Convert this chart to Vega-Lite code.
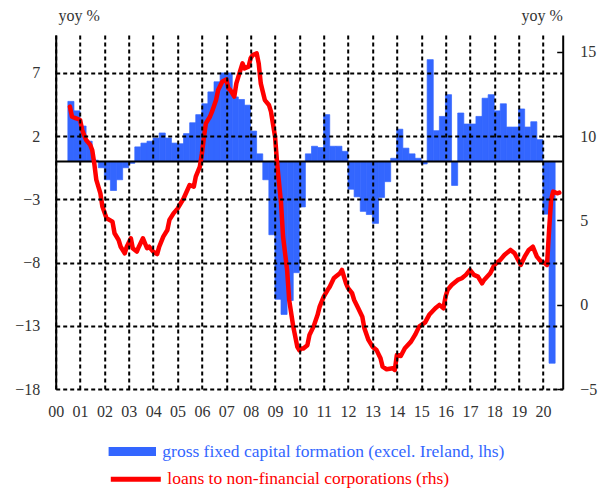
{
  "$schema": "https://vega.github.io/schema/vega-lite/v6.json",
  "autosize": {"type": "none"},
  "padding": {"left": 55.7, "top": 35, "right": 48.3, "bottom": 102},
  "width": 507,
  "height": 354,
  "config": {
    "font": "Liberation Serif",
    "view": {"stroke": null},
    "legend": {"padding": 0}
  },
  "datasets": {
    "gfcf": [
      {"q":"2000-08-16","v":4.75},{"q":"2000-11-15","v":4.0},{"q":"2001-02-14","v":2.8},{"q":"2001-05-16","v":1.6},
      {"q":"2001-08-16","v":0.1},{"q":"2001-11-15","v":-0.5},{"q":"2002-02-14","v":-1.45},{"q":"2002-05-16","v":-2.3},
      {"q":"2002-08-16","v":-1.45},{"q":"2002-11-15","v":-0.5},{"q":"2003-02-14","v":-0.15},{"q":"2003-05-16","v":1.15},
      {"q":"2003-08-16","v":1.45},{"q":"2003-11-15","v":1.6},{"q":"2004-02-14","v":1.85},{"q":"2004-05-16","v":2.25},
      {"q":"2004-08-16","v":1.85},{"q":"2004-11-15","v":1.45},{"q":"2005-02-14","v":1.4},{"q":"2005-05-16","v":2.2},
      {"q":"2005-08-16","v":3.06},{"q":"2005-11-15","v":3.7},{"q":"2006-02-14","v":4.56},{"q":"2006-05-16","v":5.5},
      {"q":"2006-08-16","v":6.3},{"q":"2006-11-15","v":7.0},{"q":"2007-02-14","v":7.0},{"q":"2007-05-16","v":5.1},
      {"q":"2007-08-16","v":4.9},{"q":"2007-11-15","v":4.45},{"q":"2008-02-14","v":2.4},{"q":"2008-05-16","v":0.6},
      {"q":"2008-08-16","v":-1.45},{"q":"2008-11-15","v":-5.8},{"q":"2009-02-14","v":-10.9},{"q":"2009-05-16","v":-12.1},
      {"q":"2009-08-16","v":-11.0},{"q":"2009-11-15","v":-8.8},{"q":"2010-02-14","v":-3.6},{"q":"2010-05-16","v":0.6},
      {"q":"2010-08-16","v":1.2},{"q":"2010-11-15","v":1.1},{"q":"2011-02-14","v":3.7},{"q":"2011-05-16","v":1.2},
      {"q":"2011-08-16","v":1.2},{"q":"2011-11-15","v":0.8},{"q":"2012-02-14","v":-2.2},{"q":"2012-05-16","v":-2.8},
      {"q":"2012-08-16","v":-3.95},{"q":"2012-11-15","v":-4.2},{"q":"2013-02-14","v":-4.9},{"q":"2013-05-16","v":-2.85},
      {"q":"2013-08-16","v":-1.6},{"q":"2013-11-15","v":0.25},{"q":"2014-02-14","v":2.55},{"q":"2014-05-16","v":1.05},
      {"q":"2014-08-16","v":0.6},{"q":"2014-11-15","v":0.25},{"q":"2015-02-14","v":-0.2},{"q":"2015-05-16","v":8.05},
      {"q":"2015-08-16","v":2.43},{"q":"2015-11-15","v":3.56},{"q":"2016-02-14","v":5.28},{"q":"2016-05-16","v":-1.9},
      {"q":"2016-08-16","v":3.83},{"q":"2016-11-15","v":2.96},{"q":"2017-02-14","v":2.96},{"q":"2017-05-16","v":3.56},
      {"q":"2017-08-16","v":5.0},{"q":"2017-11-15","v":5.28},{"q":"2018-02-14","v":4.0},{"q":"2018-05-16","v":4.56},
      {"q":"2018-08-16","v":2.72},{"q":"2018-11-15","v":2.72},{"q":"2019-02-14","v":4.15},{"q":"2019-05-16","v":2.72},
      {"q":"2019-08-16","v":3.14},{"q":"2019-11-15","v":1.72},{"q":"2020-02-14","v":-4.17},{"q":"2020-05-16","v":-15.96}
    ],
    "loans": [
      {"d":"2000-08-01","v":11.75},{"d":"2000-09-01","v":11.15},{"d":"2000-11-01","v":11.06},{"d":"2001-01-01","v":10.96},
      {"d":"2001-02-01","v":10.37},{"d":"2001-03-01","v":10.07},{"d":"2001-04-01","v":9.77},{"d":"2001-06-01","v":9.48},
      {"d":"2001-07-01","v":9.18},{"d":"2001-08-01","v":8.39},{"d":"2001-09-01","v":7.4},{"d":"2001-11-01","v":6.6},
      {"d":"2001-12-01","v":5.82},{"d":"2002-02-01","v":5.13},{"d":"2002-05-01","v":4.93},{"d":"2002-06-01","v":4.24},
      {"d":"2002-08-01","v":3.84},{"d":"2002-09-01","v":3.44},{"d":"2002-11-01","v":3.05},{"d":"2002-12-01","v":3.44},
      {"d":"2003-02-01","v":3.94},{"d":"2003-03-01","v":3.35},{"d":"2003-05-01","v":3.15},{"d":"2003-06-01","v":3.44},
      {"d":"2003-08-01","v":3.94},{"d":"2003-10-01","v":3.35},{"d":"2003-11-01","v":3.44},{"d":"2004-01-01","v":3.15},
      {"d":"2004-03-01","v":3.0},{"d":"2004-04-01","v":3.44},{"d":"2004-06-01","v":4.04},{"d":"2004-08-01","v":4.43},
      {"d":"2004-09-01","v":5.03},{"d":"2004-11-01","v":5.42},{"d":"2005-01-01","v":5.7},{"d":"2005-04-01","v":6.3},
      {"d":"2005-07-01","v":7.1},{"d":"2005-09-01","v":7.0},{"d":"2005-10-01","v":7.6},{"d":"2005-12-01","v":8.19},
      {"d":"2006-01-01","v":8.98},{"d":"2006-02-01","v":9.97},{"d":"2006-03-01","v":10.76},{"d":"2006-05-01","v":11.15},
      {"d":"2006-06-01","v":11.45},{"d":"2006-08-01","v":12.14},{"d":"2006-09-01","v":12.74},{"d":"2006-11-01","v":13.23},
      {"d":"2007-01-01","v":13.37},{"d":"2007-02-01","v":12.84},{"d":"2007-03-01","v":12.74},{"d":"2007-05-01","v":12.34},
      {"d":"2007-06-01","v":13.13},{"d":"2007-08-01","v":13.92},{"d":"2007-09-01","v":14.32},{"d":"2007-10-01","v":14.02},
      {"d":"2007-12-01","v":14.12},{"d":"2008-01-01","v":14.62},{"d":"2008-02-01","v":14.81},{"d":"2008-04-01","v":14.91},
      {"d":"2008-05-01","v":14.32},{"d":"2008-06-01","v":13.13},{"d":"2008-07-01","v":12.64},{"d":"2008-08-01","v":12.14},
      {"d":"2008-10-01","v":11.85},{"d":"2008-11-01","v":11.45},{"d":"2009-01-01","v":9.97},{"d":"2009-02-01","v":8.39},
      {"d":"2009-04-01","v":6.02},{"d":"2009-05-01","v":4.04},{"d":"2009-07-01","v":2.06},{"d":"2009-08-01","v":0.28},
      {"d":"2009-10-01","v":-1.3},{"d":"2009-12-01","v":-2.5},{"d":"2010-01-01","v":-2.7},{"d":"2010-02-01","v":-2.6},
      {"d":"2010-03-01","v":-2.6},{"d":"2010-05-01","v":-2.4},{"d":"2010-06-01","v":-1.8},{"d":"2010-08-01","v":-1.3},
      {"d":"2010-10-01","v":-0.6},{"d":"2010-11-01","v":-0.11},{"d":"2011-01-01","v":0.48},{"d":"2011-03-01","v":0.88},
      {"d":"2011-04-01","v":1.07},{"d":"2011-06-01","v":1.57},{"d":"2011-07-01","v":1.67},{"d":"2011-09-01","v":1.87},
      {"d":"2011-10-01","v":2.06},{"d":"2011-12-01","v":1.27},{"d":"2012-01-01","v":0.98},{"d":"2012-03-01","v":0.68},
      {"d":"2012-04-01","v":0.28},{"d":"2012-06-01","v":-0.21},{"d":"2012-08-01","v":-0.71},{"d":"2012-09-01","v":-1.4},
      {"d":"2012-11-01","v":-2.09},{"d":"2013-01-01","v":-2.49},{"d":"2013-03-01","v":-2.68},{"d":"2013-05-01","v":-3.18},
      {"d":"2013-06-01","v":-3.67},{"d":"2013-08-01","v":-3.83},{"d":"2013-11-01","v":-3.77},{"d":"2013-12-01","v":-3.87},
      {"d":"2014-01-01","v":-2.98},{"d":"2014-03-01","v":-3.04},{"d":"2014-05-01","v":-2.58},{"d":"2014-08-01","v":-2.19},
      {"d":"2014-10-01","v":-1.79},{"d":"2014-12-01","v":-1.3},{"d":"2015-03-01","v":-1.05},{"d":"2015-05-01","v":-0.6},
      {"d":"2015-08-01","v":-0.21},{"d":"2015-10-01","v":-0.01},{"d":"2015-12-01","v":-0.21},{"d":"2016-01-01","v":0.48},
      {"d":"2016-02-01","v":0.88},{"d":"2016-04-01","v":1.17},{"d":"2016-07-01","v":1.47},{"d":"2016-09-01","v":1.57},
      {"d":"2016-11-01","v":1.77},{"d":"2017-01-01","v":2.06},{"d":"2017-03-01","v":1.77},{"d":"2017-05-01","v":1.67},
      {"d":"2017-07-01","v":1.27},{"d":"2017-08-01","v":1.47},{"d":"2017-11-01","v":1.87},{"d":"2018-01-01","v":2.36},
      {"d":"2018-04-01","v":2.66},{"d":"2018-06-01","v":2.95},{"d":"2018-09-01","v":3.25},{"d":"2018-11-01","v":3.05},
      {"d":"2019-02-01","v":2.36},{"d":"2019-04-01","v":2.85},{"d":"2019-06-01","v":3.25},{"d":"2019-08-01","v":3.44},
      {"d":"2019-10-01","v":2.85},{"d":"2019-12-01","v":2.56},{"d":"2020-02-01","v":2.46},{"d":"2020-03-01","v":2.36},
      {"d":"2020-04-01","v":4.43},{"d":"2020-05-01","v":6.21},{"d":"2020-06-01","v":6.71},{"d":"2020-08-01","v":6.61},
      {"d":"2020-09-01","v":6.65}
    ]
  },
  "layer": [
    {
      "layer": [
        {
          "data": {"name": "gfcf"},
          "mark": {"type": "bar", "width": 6.1, "stroke": "#3366ff", "strokeWidth": 0.7},
          "encoding": {
            "x": {
              "field": "q", "type": "temporal",
              "scale": {"type": "utc", "padding": 0, "domain": [{"year": 2000, "month": 1, "date": 1, "utc": true}, {"year": 2020, "month": 10, "date": 22, "utc": true}]},
              "axis": {
                "orient": "bottom", "title": null,
                "labelExpr": "utcFormat(datum.value, '%y')",
                "values": [
                  946684800000, 978307200000, 1009843200000, 1041379200000, 1072915200000,
                  1104537600000, 1136073600000, 1167609600000, 1199145600000, 1230768000000,
                  1262304000000, 1293840000000, 1325376000000, 1356998400000, 1388534400000,
                  1420070400000, 1451606400000, 1483228800000, 1514764800000, 1546300800000,
                  1577836800000
                ],
                "tickCount": {"interval": "year", "step": 1},
                "domain": false, "ticks": false, "tickSize": 0,
                "grid": true, "gridColor": "#000000", "gridDash": [4, 3], "gridWidth": 2, "gridOpacity": 1,
                "labelFont": "Liberation Serif", "labelFontSize": 16, "labelColor": "#333333",
                "labelPadding": 14, "labelFlush": false, "labelOverlap": false, "labelAngle": 0,
                "zindex": 1
              }
            },
            "y": {
              "field": "v", "type": "quantitative",
              "scale": {"domain": [-18, 10], "nice": false, "zero": false},
              "axis": {
                "orient": "left", "values": [-18, -13, -8, -3, 2, 7],
                "grid": true, "gridColor": "#000000", "gridDash": [4, 3], "gridWidth": 2, "gridOpacity": 1,
                "domain": true, "domainColor": "#000000", "domainWidth": 2,
                "ticks": false, "tickSize": 0, "labelPadding": 16,
                "labelFont": "Liberation Serif", "labelFontSize": 16, "labelColor": "#333333",
                "title": "yoy %", "titleAngle": 0, "titleX": 23, "titleY": -15, "titleAlign": "center",
                "titleBaseline": "alphabetic", "titleFont": "Liberation Serif", "titleFontSize": 16,
                "titleFontWeight": "normal", "titleColor": "#333333",
                "zindex": 1
              }
            },
            "fill": {
              "datum": "gross fixed capital formation (excel. Ireland, lhs)", "type": "nominal",
              "scale": {"range": ["#3366ff"]},
              "legend": {
                "orient": "none", "legendX": 52.6, "legendY": 392.5, "title": null,
                "symbolType": "M-1,-0.19H1V0.19H-1Z", "symbolSize": 2247, "symbolStrokeWidth": 0,
                "labelColor": "#3366ff", "labelFont": "Liberation Serif", "labelFontSize": 17.5,
                "labelOffset": 6, "labelLimit": 0
              }
            }
          }
        },
        {
          "data": {"values": [{"z": 0}]},
          "mark": {"type": "rule", "color": "#000000", "strokeWidth": 2},
          "encoding": {
            "y": {"field": "z", "type": "quantitative"}
          }
        }
      ]
    },
    {
      "data": {"name": "loans"},
      "mark": {"type": "line", "strokeWidth": 4.5, "strokeJoin": "round", "strokeCap": "round"},
      "encoding": {
        "x": {
          "field": "d", "type": "temporal",
          "scale": {"type": "utc", "padding": 0, "domain": [{"year": 2000, "month": 1, "date": 1, "utc": true}, {"year": 2020, "month": 10, "date": 22, "utc": true}]}
        },
        "y": {
          "field": "v", "type": "quantitative",
          "scale": {"domain": [-5, 16], "nice": false, "zero": false},
          "axis": {
            "orient": "right", "values": [-5, 0, 5, 10, 15], "grid": false,
            "domain": true, "domainColor": "#000000", "domainWidth": 2,
            "ticks": true, "tickSize": -6, "tickColor": "#000000", "tickWidth": 1.5,
            "labelPadding": 23,
            "labelFont": "Liberation Serif", "labelFontSize": 16, "labelColor": "#333333",
            "title": "yoy %", "titleAngle": 0, "titleX": -21, "titleY": -15, "titleAlign": "center",
            "titleBaseline": "alphabetic", "titleFont": "Liberation Serif", "titleFontSize": 16,
            "titleFontWeight": "normal", "titleColor": "#333333",
            "zindex": 1
          }
        },
        "stroke": {
          "datum": "loans to non-financial corporations (rhs)", "type": "nominal",
          "scale": {"range": ["#ff0000"]},
          "legend": {
            "orient": "none", "legendX": 52.6, "legendY": 416.7, "title": null,
            "symbolType": "stroke", "symbolSize": 2500, "symbolStrokeWidth": 5,
            "labelColor": "#ff0000", "labelFont": "Liberation Serif", "labelFontSize": 17.5,
            "labelOffset": 4, "labelLimit": 0
          }
        }
      }
    }
  ],
  "resolve": {"scale": {"y": "independent"}}
}
